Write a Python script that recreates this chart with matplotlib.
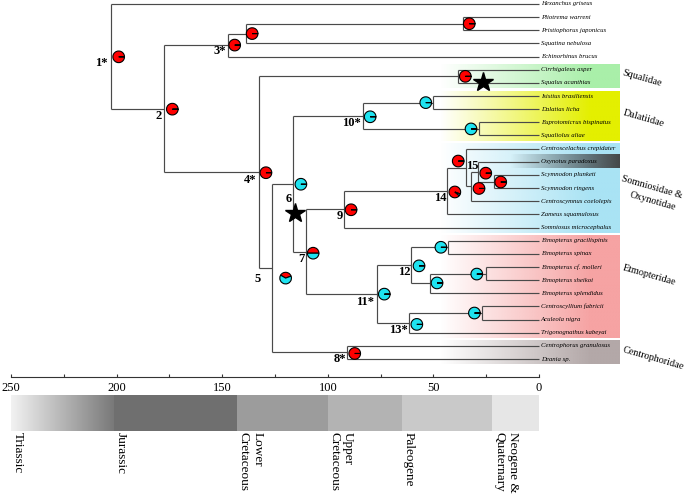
import numpy as np
import matplotlib.pyplot as plt
from matplotlib.patches import Wedge
from matplotlib.transforms import ScaledTranslation
from matplotlib.colors import to_rgb

plt.rcParams['font.family'] = ['Liberation Serif', 'DejaVu Serif']

# tips, top to bottom
tips = ['Hexanchus griseus', 'Pliotrema warreni', 'Pristiophorus japonicus',
        'Squatina nebulosa', 'Echinorhinus brucus', 'Cirrhigaleus asper',
        'Squalus acanthias', 'Isistius brasiliensis', 'Dalatias licha',
        'Euprotomicrus bispinatus', 'Squaliolus aliae', 'Centroscelachus crepidater',
        'Oxynotus paradoxus', 'Scymnodon plunketi', 'Scymnodon ringens',
        'Centroscymnus coelolepis', 'Zameus squamulosus', 'Somniosus microcephalus',
        'Etmopterus gracilispinis', 'Etmopterus spinax', 'Etmopterus cf. molleri',
        'Etmopterus sheikoi', 'Etmopterus splendidus', 'Centroscyllium fabricii',
        'Aculeola nigra', 'Trigonognathus kabeyai', 'Centrophorus granulosus',
        'Deania sp.']

# internal nodes (int child = tip index, str child = node id)
node_ids = ['1*', '2', '3*', 'a', 'pr', '4*', 'sq', '5', '6', '10*', 'da', 'eu',
            '7', '9', '14', 'b', '15', 'c', 'sc', '11*', '12', 'e', 'f', 'g',
            '13*', 'h', '8*']
node_kids = [[0, '2'], ['3*', '4*'], ['a', 4], ['pr', 3], [1, 2], ['sq', '5'], [5, 6],
             ['6', '8*'], ['10*', '7'], ['da', 'eu'], [7, 8], [9, 10],
             ['9', '11*'], ['14', 17], ['b', 16], [11, '15'], ['c', 15], [12, 'sc'],
             [13, 14], ['12', '13*'], ['e', 'f'], [18, 19], ['g', 22], [20, 21],
             ['h', 25], [23, 24], [26, 27]]
node_ages = [202.8, 177.4, 147.4, 138.9, 36.1, 132.6, 38.2, 126.6, 116.3, 83.5, 50.3, 28.4,
             110.5, 92.3, 43.4, 34.7, 32.2, 29.0, 21.2, 76.8, 60.6, 42.9, 51.6, 25.2,
             61.4, 26.8, 90.8]
labelled = ['1*', '2', '3*', '4*', '5', '6', '7', '8*', '9', '10*', '11*', '12', '13*', '14', '15']

# ancestral state pies: share of red state and start angle (deg)
pie_red = [1, 1, 1, 1, 1, 1, 1, 0.36, 0, 0, 0, 0,
           0.5, 1, 0.945, 1, 1, 1, 1, 0, 0, 0, 0, 0,
           0, 0, 1]
pie_start = [0] * 7 + [20] + [0] * 6 + [-20] + [0] * 12

# stars (age, row)
star_age = [26.7, 115.5]
star_row = [5.9, 15.92]

# families
family_names = ['Squalidae', 'Dalatiidae', 'Somniosidae &\nOxynotidae', 'Etmopteridae', 'Centrophoridae']
family_first = [5, 7, 11, 18, 26]
family_last = [6, 10, 17, 25, 27]
family_colors = ['#a9efa9', '#e4ef00', '#a9e3f4', '#f6a3a3', '#b3a8a8']

# time scale
period_names = ['Triassic', 'Jurassic', 'Lower\nCretaceous', 'Upper\nCretaceous',
                'Paleogene', 'Neogene &\nQuaternary']
period_start = [250, 201, 143, 100, 65, 22]
period_end = [201, 143, 100, 65, 22, 0]
period_colors = ['#9a9a9a', '#6f6f6f', '#9c9c9c', '#b3b3b3', '#c9c9c9', '#e6e6e6']

# ---- layout (pixels) ----
W, H = 685, 494
X0, PXM = 539, 2.112   # px of age 0, px per Myr
Y0, ROW = 4, 13.15     # px of first tip, px per row
RED, CYAN = '#ff0000', '#1ee3f0'
LINE = '#4a4a4a'

label_off = {'1*': (-3, 7), '2': (-2.5, 7.5), '3*': (-2, 6), '4*': (-3, 8), '5': (-11, 11),
             '6': (-1.5, 15.5), '7': (-1.5, 7.5), '8*': (-1, 7), '9': (-1, 6.5),
             '10*': (-1.5, 7.5), '11*': (-2.5, 7.5), '12': (-0.5, 6.5), '13*': (-2, 7),
             '14': (-0.5, 7), '15': (1.5, -20.5)}
pie_off = {'1*': (8, 0.5), '2': (8, 0.5), '3*': (7, 0), 'a': (6.5, 0), 'pr': (6.5, 0),
           '4*': (7, 0.5), 'sq': (7, 0), '5': (14, 10), '6': (7.5, 0.5), '10*': (7.5, 1),
           'da': (-7, 0), 'eu': (-8, 0), '7': (7.5, 1.5), '9': (7, 0.5), '14': (7.5, 1),
           'b': (-7.5, -6.5), '15': (8, 2), 'c': (8, 1.5), 'sc': (6.5, 0.5),
           '11*': (7.5, 0), '12': (8, 0.5), 'e': (-7.5, 0), 'f': (7, -0.5), 'g': (-9, 0.5),
           '13*': (7.5, 1.5), 'h': (-8, 0), '8*': (7.5, 1)}


def to_data(px, py):
    return (X0 - px) / PXM, (py - Y0) / ROW


fig = plt.figure(figsize=(W / 100, H / 100), dpi=100)
ax = fig.add_axes([0, 0, 1, 1])
ax.axis('off')

idx = {n: i for i, n in enumerate(node_ids)}


def node_y(k):
    if isinstance(k, int):
        return float(k)
    kids = node_kids[idx[k]]
    return (node_y(kids[0]) + node_y(kids[-1])) / 2


def node_x(k):
    return 0.0 if isinstance(k, int) else node_ages[idx[k]]


# coloured family boxes, fading in from the left
xl, _ = to_data(440, 0)
xr, _ = to_data(620, 0)
cols = np.linspace(440, 620, 300)
alpha = np.clip((cols - 440) / 150, 0, 1)
for first, last, col in zip(family_first, family_last, family_colors):
    img = np.zeros((1, len(cols), 4))
    img[0, :, :3] = to_rgb(col)
    img[0, :, 3] = alpha
    ax.imshow(img, extent=(xl, xr, last + 0.4, first - 0.4), aspect='auto',
              interpolation='bilinear', zorder=0)
# dark band behind Oxynotus
ox = tips.index('Oxynotus paradoxus')
xo, _ = to_data(510, 0)
cols2 = np.linspace(510, 620, 200)
img = np.zeros((1, len(cols2), 4))
img[0, :, :3] = to_rgb('#3f3f3f')
img[0, :, 3] = np.clip((cols2 - 510) / 110, 0, 1) * 0.95
ax.imshow(img, extent=(xo, xr, ox + 0.5, ox - 0.5), aspect='auto',
          interpolation='bilinear', zorder=0.5)

# tree
for n, kids, age in zip(node_ids, node_kids, node_ages):
    ys = [node_y(k) for k in kids]
    ax.plot([age, age], [min(ys), max(ys)], color=LINE, lw=0.85, zorder=2,
            solid_capstyle='butt')
    for k, ky in zip(kids, ys):
        ax.plot([age, node_x(k)], [ky, ky], color=LINE, lw=0.85, zorder=2,
                solid_capstyle='butt')

for i, name in enumerate(tips):
    ax.text(-0.8, i, name, style='italic', fontsize=4.9, ha='left', va='center', zorder=3)

# node numbers
for n in labelled:
    dx, dy = label_off[n]
    ax.annotate(n, (node_ages[idx[n]], node_y(n)), xytext=(dx, -dy),
                textcoords='offset pixels', ha='center' if n == '15' else 'right',
                va='center', fontsize=9, fontweight='bold', zorder=4)

# pies
R = 5.8 / 100
for n, red, start in zip(node_ids, pie_red, pie_start):
    dx, dy = pie_off[n]
    tr = fig.dpi_scale_trans + ScaledTranslation(node_ages[idx[n]], node_y(n), ax.transData)
    a = start
    for frac, col in [(red, RED), (1 - red, CYAN)]:
        if frac <= 0:
            continue
        span = min(360 * frac, 359.99)
        ax.add_patch(Wedge((dx / 100, -dy / 100), R, a, a + span, facecolor=col,
                           edgecolor='black', lw=0.8, transform=tr, zorder=5))
        a += 360 * frac

ax.plot(star_age, star_row, ls='none', marker='*', ms=15, color='black', zorder=6)

# family labels
fam_pos = [(623, 72.5), (623, 113), (622, 179), (623, 268), (623, 350)]
for name, (px, py) in zip(family_names, fam_pos):
    for j, line in enumerate(name.split('\n')):
        x, y = to_data(px + 8 * j, py + 16 * j)
        ax.text(x, y, line, fontsize=7.3, rotation=-16, rotation_mode='anchor',
                ha='left', va='center', zorder=4)

ax.set_xlim(X0 / PXM, (X0 - W) / PXM)
ax.set_ylim((H - Y0) / ROW, -Y0 / ROW)

# time axis
ax_s = fig.add_axes([11 / W, 1 - 377 / H, 528 / W, 6 / H])
ax_s.set_xlim(250, 0)
ax_s.set_xticks(range(0, 251, 50))
ax_s.set_xticks(range(0, 251, 25), minor=True)
for s in ['top', 'left', 'right']:
    ax_s.spines[s].set_visible(False)
ax_s.spines['bottom'].set_color('#333333')
ax_s.spines['bottom'].set_linewidth(0.8)
ax_s.set_yticks([])
ax_s.patch.set_alpha(0)
ax_s.tick_params(axis='x', which='both', direction='in', length=2.5, width=0.8,
                 pad=3.5, labelsize=9, color='#333333')

# geological bar
ax_b = fig.add_axes([11 / W, 1 - 431 / H, 530 / W, 36 / H])
ax_b.axis('off')
grad = np.linspace(0.95, 0.47, 200)
ax_b.imshow(np.repeat(grad[None, :, None], 3, axis=2),
            extent=(period_start[0], period_end[0], 0, 1), aspect='auto',
            interpolation='bilinear', zorder=1)
ax_b.barh(0.5, [s - e for s, e in zip(period_start[1:], period_end[1:])],
          left=period_end[1:], height=1, color=period_colors[1:], edgecolor='none', zorder=1)
ax_b.set_xlim(250, -1)
ax_b.set_ylim(0, 1)
for name, s in zip(period_names, period_start):
    ax_b.text(s - 0.3, -0.03, name, rotation=270, ha='left', va='top', fontsize=9.5)

fig.savefig('out.png', dpi=100)
